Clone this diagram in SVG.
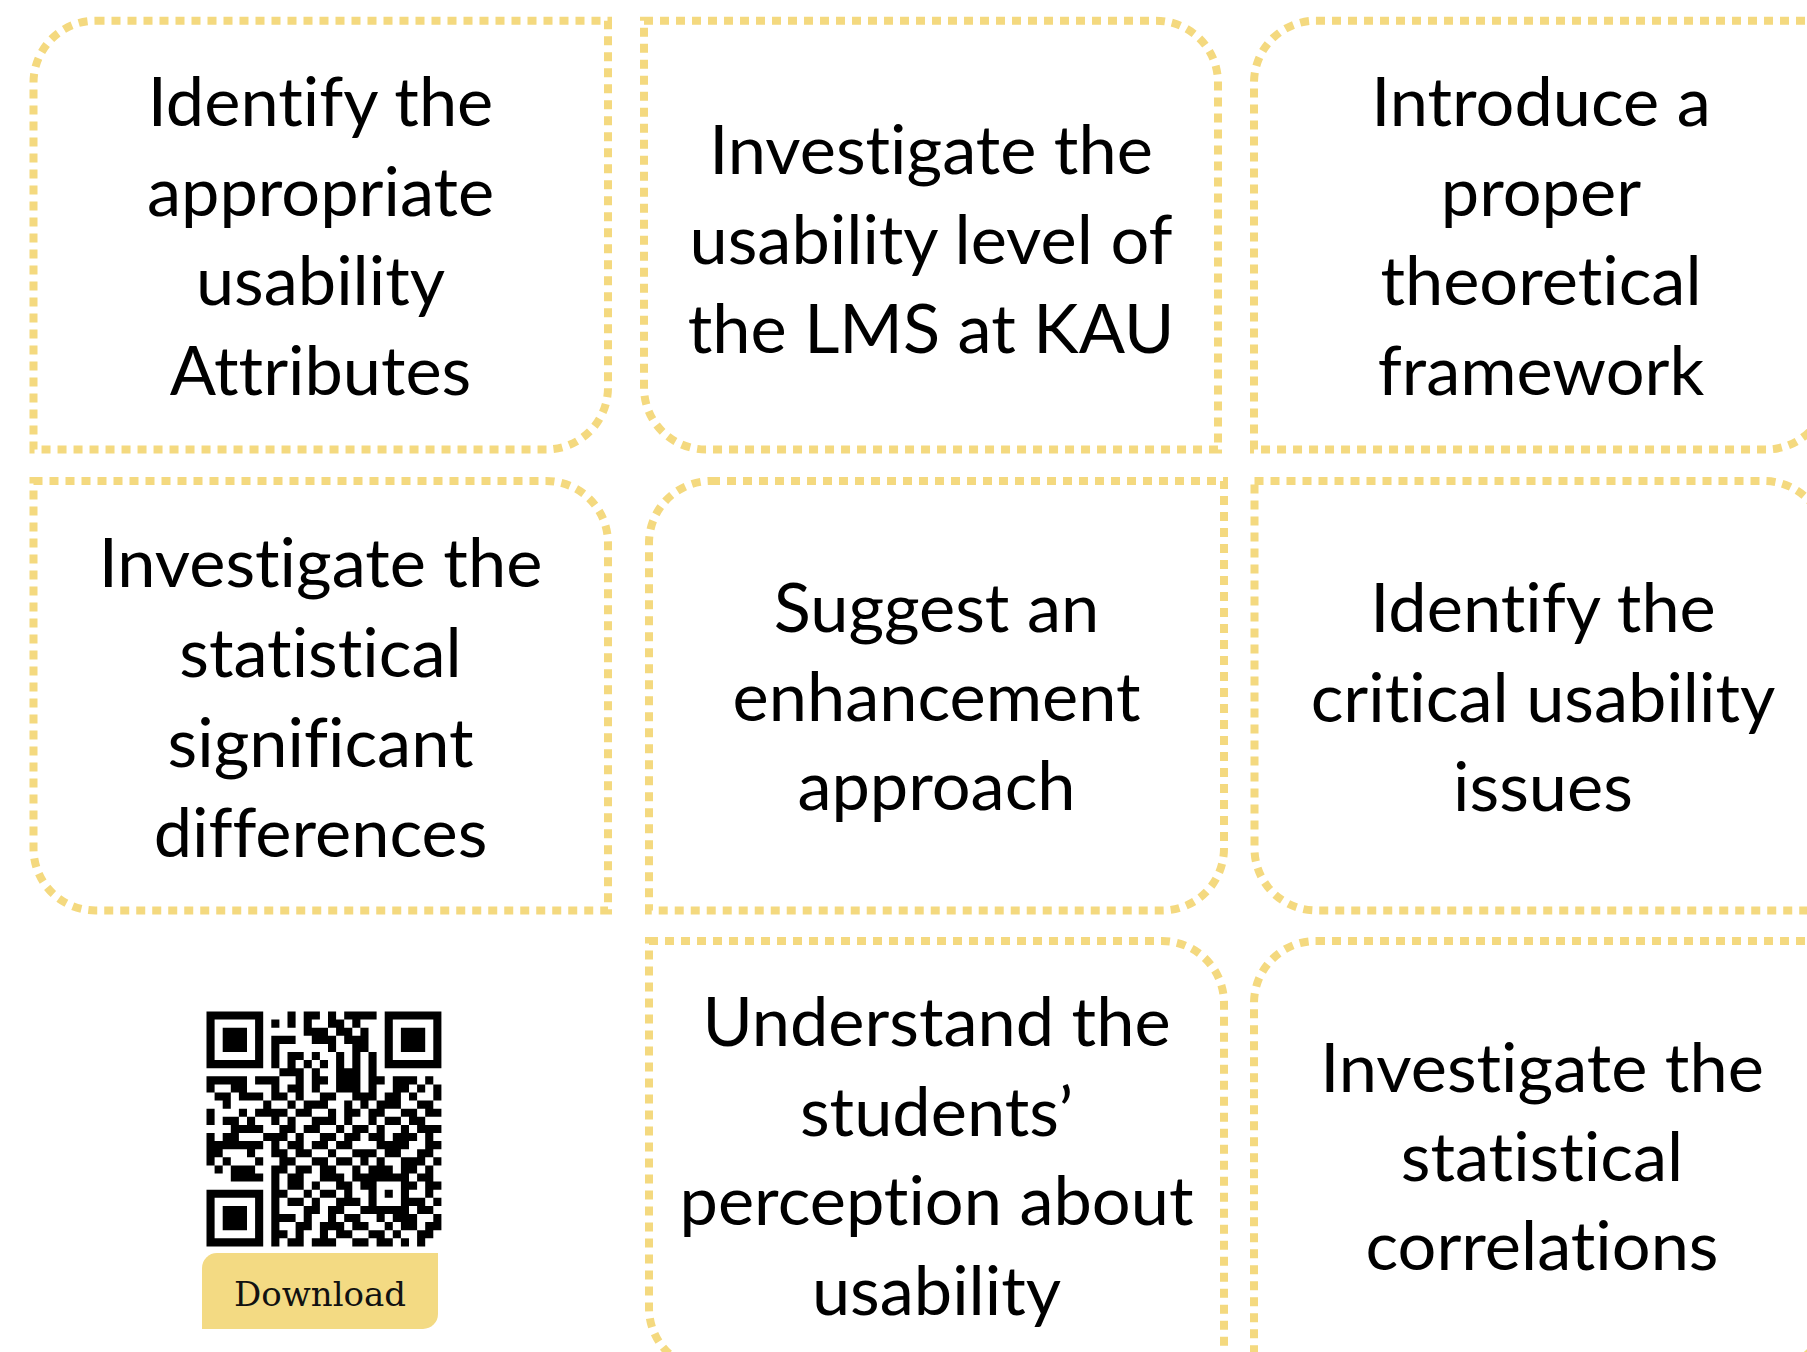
<svg xmlns="http://www.w3.org/2000/svg" width="1807" height="1352" viewBox="0 0 1807 1352">
<style>
.box{fill:none;stroke:#F4D97F;stroke-width:8;stroke-dasharray:9 7}
.t{font-family:Lato,"Liberation Sans",sans-serif;font-size:68.5px;fill:#000;text-anchor:middle;font-variant-ligatures:none;font-feature-settings:"liga" 0,"clig" 0}
.dl{font-family:"DejaVu Serif","Liberation Serif",serif;font-size:34px;fill:#111;text-anchor:middle}
</style>
<rect width="1807" height="1352" fill="#fff"/>
<g id="connectors"></g>
<g id="node-a">
<path class="box" d="M95.5,20.7H608V387.5A62,62 0 0 1 546,449.5H33.5V82.7A62,62 0 0 1 95.5,20.7Z"/>
<text class="t" x="320.5" y="126">Identify the</text>
<text class="t" x="320.5" y="215.5">appropriate</text>
<text class="t" x="320.5" y="305">usability</text>
<text class="t" x="320.5" y="394.5">Attributes</text>
</g>
<g id="node-b">
<path class="box" d="M644,20.7H1156A62,62 0 0 1 1218,82.7V449.5H706A62,62 0 0 1 644,387.5Z"/>
<text class="t" x="931" y="174">Investigate the</text>
<text class="t" x="931" y="263.5">usability level of</text>
<text class="t" x="931" y="353">the LMS at KAU</text>
</g>
<g id="node-c">
<path class="box" d="M1316,20.7H1828V387.5A62,62 0 0 1 1766,449.5H1254V82.7A62,62 0 0 1 1316,20.7Z"/>
<text class="t" x="1541" y="126">Introduce a</text>
<text class="t" x="1541" y="215.5">proper</text>
<text class="t" x="1541" y="305">theoretical</text>
<text class="t" x="1541" y="394.5">framework</text>
</g>
<g id="node-d">
<path class="box" d="M33.5,481H546A62,62 0 0 1 608,543V910.5H95.5A62,62 0 0 1 33.5,848.5Z"/>
<text class="t" x="320.5" y="587">Investigate the</text>
<text class="t" x="320.5" y="677">statistical</text>
<text class="t" x="320.5" y="767">significant</text>
<text class="t" x="320.5" y="857">differences</text>
</g>
<g id="node-e">
<path class="box" d="M711,481H1224V848.5A62,62 0 0 1 1162,910.5H649V543A62,62 0 0 1 711,481Z"/>
<text class="t" x="936.5" y="632">Suggest an</text>
<text class="t" x="936.5" y="721">enhancement</text>
<text class="t" x="936.5" y="810">approach</text>
</g>
<g id="node-f">
<path class="box" d="M1254.5,481H1764A62,62 0 0 1 1826,543V910.5H1316.5A62,62 0 0 1 1254.5,848.5Z"/>
<text class="t" x="1543" y="632">Identify the</text>
<text class="t" x="1543" y="722">critical usability</text>
<text class="t" x="1543" y="811">issues</text>
</g>
<g id="node-h">
<path class="box" d="M649,941H1162A62,62 0 0 1 1224,1003V1370H711A62,62 0 0 1 649,1308Z"/>
<text class="t" x="936.5" y="1046">Understand the</text>
<text class="t" x="936.5" y="1135.5">students’</text>
<text class="t" x="936.5" y="1225">perception about</text>
<text class="t" x="936.5" y="1315">usability</text>
</g>
<g id="node-i">
<path class="box" d="M1316,941H1828V1308A62,62 0 0 1 1766,1370H1254V1003A62,62 0 0 1 1316,941Z"/>
<text class="t" x="1542" y="1092">Investigate the</text>
<text class="t" x="1542" y="1181">statistical</text>
<text class="t" x="1542" y="1270">correlations</text>
</g>
<g id="node-qr">
<path fill="#000" transform="translate(206.5,1011.5) scale(8.1)" d="M0,0h7v1h-7zM10,0h1v1h-1zM12,0h2v1h-2zM15,0h1v1h-1zM17,0h4v1h-4zM22,0h7v1h-7z
M0,1h1v1h-1zM6,1h1v1h-1zM8,1h1v1h-1zM10,1h1v1h-1zM12,1h1v1h-1zM15,1h2v1h-2zM18,1h1v1h-1zM22,1h1v1h-1zM28,1h1v1h-1z
M0,2h1v1h-1zM2,2h3v1h-3zM6,2h1v1h-1zM12,2h3v1h-3zM16,2h2v1h-2zM19,2h1v1h-1zM22,2h1v1h-1zM24,2h3v1h-3zM28,2h1v1h-1z
M0,3h1v1h-1zM2,3h3v1h-3zM6,3h1v1h-1zM8,3h3v1h-3zM13,3h3v1h-3zM17,3h3v1h-3zM22,3h1v1h-1zM24,3h3v1h-3zM28,3h1v1h-1z
M0,4h1v1h-1zM2,4h3v1h-3zM6,4h1v1h-1zM8,4h1v1h-1zM15,4h1v1h-1zM18,4h2v1h-2zM22,4h1v1h-1zM24,4h3v1h-3zM28,4h1v1h-1z
M0,5h1v1h-1zM6,5h1v1h-1zM8,5h1v1h-1zM10,5h2v1h-2zM13,5h1v1h-1zM16,5h1v1h-1zM18,5h1v1h-1zM20,5h1v1h-1zM22,5h1v1h-1zM28,5h1v1h-1z
M0,6h7v1h-7zM8,6h1v1h-1zM10,6h1v1h-1zM12,6h1v1h-1zM14,6h1v1h-1zM16,6h1v1h-1zM18,6h1v1h-1zM20,6h1v1h-1zM22,6h7v1h-7z
M9,7h3v1h-3zM13,7h1v1h-1zM16,7h3v1h-3zM20,7h1v1h-1z
M0,8h5v1h-5zM6,8h3v1h-3zM11,8h1v1h-1zM13,8h2v1h-2zM16,8h3v1h-3zM20,8h2v1h-2zM23,8h3v1h-3zM27,8h1v1h-1z
M0,9h1v1h-1zM3,9h2v1h-2zM8,9h1v1h-1zM10,9h2v1h-2zM13,9h1v1h-1zM16,9h3v1h-3zM20,9h1v1h-1zM23,9h2v1h-2zM26,9h1v1h-1zM28,9h1v1h-1z
M1,10h2v1h-2zM4,10h3v1h-3zM8,10h2v1h-2zM11,10h1v1h-1zM14,10h2v1h-2zM18,10h3v1h-3zM22,10h2v1h-2zM25,10h1v1h-1zM28,10h1v1h-1z
M2,11h1v1h-1zM7,11h1v1h-1zM10,11h1v1h-1zM12,11h3v1h-3zM17,11h1v1h-1zM19,11h1v1h-1zM21,11h3v1h-3zM26,11h2v1h-2z
M0,12h1v1h-1zM4,12h1v1h-1zM6,12h4v1h-4zM11,12h2v1h-2zM15,12h1v1h-1zM17,12h2v1h-2zM20,12h2v1h-2zM24,12h2v1h-2zM27,12h2v1h-2z
M0,13h1v1h-1zM2,13h2v1h-2zM5,13h1v1h-1zM8,13h1v1h-1zM10,13h1v1h-1zM13,13h3v1h-3zM17,13h1v1h-1zM20,13h1v1h-1zM22,13h2v1h-2zM25,13h2v1h-2z
M3,14h4v1h-4zM9,14h2v1h-2zM12,14h2v1h-2zM16,14h1v1h-1zM18,14h2v1h-2zM21,14h1v1h-1zM24,14h1v1h-1zM26,14h3v1h-3z
M0,15h1v1h-1zM2,15h2v1h-2zM7,15h3v1h-3zM11,15h1v1h-1zM14,15h2v1h-2zM17,15h2v1h-2zM20,15h2v1h-2zM23,15h3v1h-3zM27,15h1v1h-1z
M0,16h7v1h-7zM8,16h1v1h-1zM10,16h2v1h-2zM13,16h2v1h-2zM16,16h2v1h-2zM21,16h4v1h-4zM27,16h2v1h-2z
M0,17h2v1h-2zM5,17h1v1h-1zM8,17h2v1h-2zM11,17h2v1h-2zM15,17h1v1h-1zM18,17h3v1h-3zM22,17h2v1h-2zM26,17h2v1h-2z
M0,18h1v1h-1zM2,18h1v1h-1zM6,18h1v1h-1zM9,18h2v1h-2zM13,18h2v1h-2zM16,18h2v1h-2zM19,18h1v1h-1zM21,18h1v1h-1zM24,18h3v1h-3zM28,18h1v1h-1z
M1,19h1v1h-1zM3,19h3v1h-3zM8,19h2v1h-2zM11,19h2v1h-2zM14,19h2v1h-2zM18,19h1v1h-1zM20,19h3v1h-3zM24,19h2v1h-2zM27,19h1v1h-1z
M3,20h4v1h-4zM8,20h1v1h-1zM10,20h2v1h-2zM14,20h3v1h-3zM18,20h7v1h-7zM26,20h2v1h-2z
M8,21h1v1h-1zM10,21h2v1h-2zM13,21h1v1h-1zM16,21h2v1h-2zM19,21h2v1h-2zM24,21h2v1h-2zM27,21h2v1h-2z
M0,22h7v1h-7zM8,22h2v1h-2zM12,22h1v1h-1zM14,22h2v1h-2zM17,22h1v1h-1zM20,22h1v1h-1zM22,22h1v1h-1zM24,22h1v1h-1zM27,22h1v1h-1z
M0,23h1v1h-1zM6,23h1v1h-1zM8,23h1v1h-1zM10,23h2v1h-2zM13,23h1v1h-1zM16,23h3v1h-3zM20,23h1v1h-1zM24,23h3v1h-3zM28,23h1v1h-1z
M0,24h1v1h-1zM2,24h3v1h-3zM6,24h1v1h-1zM8,24h1v1h-1zM12,24h2v1h-2zM15,24h2v1h-2zM19,24h6v1h-6zM26,24h2v1h-2z
M0,25h1v1h-1zM2,25h3v1h-3zM6,25h1v1h-1zM8,25h3v1h-3zM12,25h1v1h-1zM15,25h1v1h-1zM17,25h2v1h-2zM21,25h1v1h-1zM23,25h3v1h-3zM28,25h1v1h-1z
M0,26h1v1h-1zM2,26h3v1h-3zM6,26h1v1h-1zM8,26h1v1h-1zM11,26h2v1h-2zM14,26h3v1h-3zM18,26h2v1h-2zM22,26h1v1h-1zM24,26h2v1h-2zM27,26h2v1h-2z
M0,27h1v1h-1zM6,27h1v1h-1zM8,27h2v1h-2zM11,27h1v1h-1zM14,27h1v1h-1zM16,27h2v1h-2zM20,27h2v1h-2zM23,27h1v1h-1zM26,27h2v1h-2z
M0,28h7v1h-7zM8,28h1v1h-1zM10,28h2v1h-2zM13,28h3v1h-3zM18,28h2v1h-2zM21,28h2v1h-2zM24,28h1v1h-1zM26,28h1v1h-1z"/>
</g>
<g id="node-download">
<path fill="#F3DA83" d="M217,1253H438V1314A15,15 0 0 1 423,1329H202V1268A15,15 0 0 1 217,1253Z"/>
<text class="dl" x="320" y="1306">Download</text>
</g>
</svg>
